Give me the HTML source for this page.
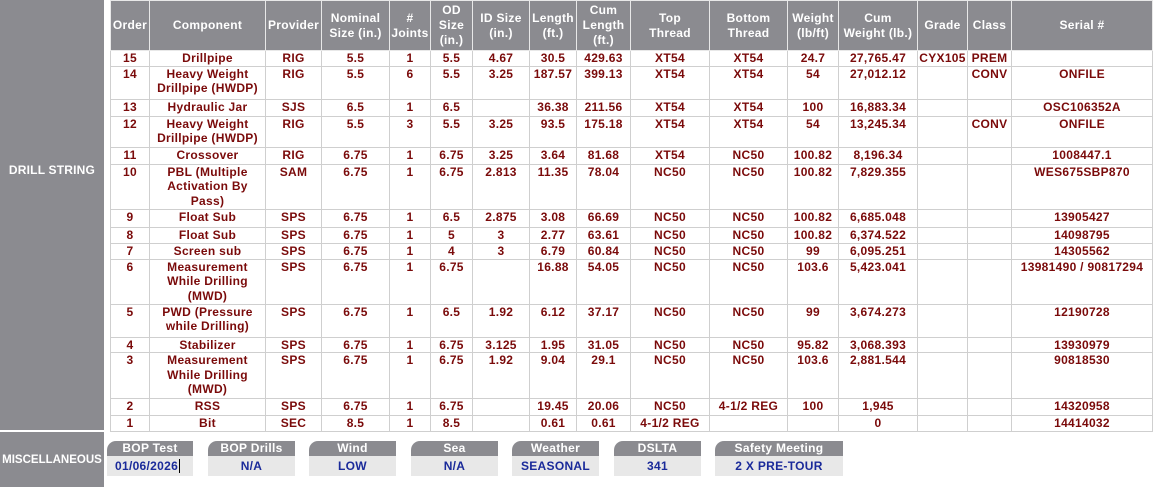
<!DOCTYPE html>
<html><head><style>
body{margin:0;width:1157px;height:487px;background:#fff;font-family:"Liberation Sans",sans-serif;position:relative;overflow:hidden}
.side{position:absolute;left:0;width:104px;background:#8b8b90;color:#fff;font-weight:bold;font-size:12px;letter-spacing:0.2px;text-align:center}
table{position:absolute;left:110px;top:0;border-collapse:collapse;table-layout:fixed;width:1042px}
td,th{border:1px solid #cfcfcf;padding:0 1px;text-align:center;vertical-align:top;font-size:12px;line-height:14.5px;font-weight:bold;overflow:hidden;white-space:nowrap;letter-spacing:0.3px}
th{background:#8b8b90;color:#fff;vertical-align:middle;border-color:#e8e8e8;height:49px;line-height:15px}
td{color:#7a0a0a}
.b{position:absolute;top:441px;height:35px}
.b .h{height:15px;background:#8b8b90;color:#fff;font-weight:bold;font-size:12px;text-align:center;line-height:15px;border-top-left-radius:9px;letter-spacing:0.3px}
.b .v{height:20px;background:#e8e8e8;color:#1a2a9a;font-weight:bold;font-size:12px;text-align:center;line-height:20px;letter-spacing:0.3px}
</style></head><body>
<div class="side" style="top:0;height:430px"><div style="padding-top:163px">DRILL STRING</div></div>
<div class="side" style="top:432px;height:55px"><div style="padding-top:22px;font-size:11.5px;letter-spacing:0">MISCELLANEOUS</div></div>
<table>
<colgroup><col style="width:39px"><col style="width:116px"><col style="width:56px"><col style="width:68px"><col style="width:41px"><col style="width:42px"><col style="width:57px"><col style="width:47px"><col style="width:54px"><col style="width:79px"><col style="width:78px"><col style="width:51px"><col style="width:79px"><col style="width:50px"><col style="width:44px"><col style="width:141px"></colgroup>
<tr><th>Order</th><th>Component</th><th>Provider</th><th>Nominal<br>Size (in.)</th><th>#<br>Joints</th><th>OD<br>Size<br>(in.)</th><th>ID Size<br>(in.)</th><th>Length<br>(ft.)</th><th>Cum<br>Length<br>(ft.)</th><th>Top<br>Thread</th><th>Bottom<br>Thread</th><th>Weight<br>(lb/ft)</th><th>Cum<br>Weight (lb.)</th><th>Grade</th><th>Class</th><th>Serial #</th></tr>
<tr style="height:15px"><td>15</td><td>Drillpipe</td><td>RIG</td><td>5.5</td><td>1</td><td>5.5</td><td>4.67</td><td>30.5</td><td>429.63</td><td>XT54</td><td>XT54</td><td>24.7</td><td>27,765.47</td><td>CYX105</td><td>PREM</td><td></td></tr>
<tr style="height:33px"><td>14</td><td>Heavy Weight<br>Drillpipe (HWDP)</td><td>RIG</td><td>5.5</td><td>6</td><td>5.5</td><td>3.25</td><td>187.57</td><td>399.13</td><td>XT54</td><td>XT54</td><td>54</td><td>27,012.12</td><td></td><td>CONV</td><td>ONFILE</td></tr>
<tr style="height:17px"><td>13</td><td>Hydraulic Jar</td><td>SJS</td><td>6.5</td><td>1</td><td>6.5</td><td></td><td>36.38</td><td>211.56</td><td>XT54</td><td>XT54</td><td>100</td><td>16,883.34</td><td></td><td></td><td>OSC106352A</td></tr>
<tr style="height:31px"><td>12</td><td>Heavy Weight<br>Drillpipe (HWDP)</td><td>RIG</td><td>5.5</td><td>3</td><td>5.5</td><td>3.25</td><td>93.5</td><td>175.18</td><td>XT54</td><td>XT54</td><td>54</td><td>13,245.34</td><td></td><td>CONV</td><td>ONFILE</td></tr>
<tr style="height:17px"><td>11</td><td>Crossover</td><td>RIG</td><td>6.75</td><td>1</td><td>6.75</td><td>3.25</td><td>3.64</td><td>81.68</td><td>XT54</td><td>NC50</td><td>100.82</td><td>8,196.34</td><td></td><td></td><td>1008447.1</td></tr>
<tr style="height:45px"><td>10</td><td>PBL (Multiple<br>Activation By<br>Pass)</td><td>SAM</td><td>6.75</td><td>1</td><td>6.75</td><td>2.813</td><td>11.35</td><td>78.04</td><td>NC50</td><td>NC50</td><td>100.82</td><td>7,829.355</td><td></td><td></td><td>WES675SBP870</td></tr>
<tr style="height:18px"><td>9</td><td>Float Sub</td><td>SPS</td><td>6.75</td><td>1</td><td>6.5</td><td>2.875</td><td>3.08</td><td>66.69</td><td>NC50</td><td>NC50</td><td>100.82</td><td>6,685.048</td><td></td><td></td><td>13905427</td></tr>
<tr style="height:16px"><td>8</td><td>Float Sub</td><td>SPS</td><td>6.75</td><td>1</td><td>5</td><td>3</td><td>2.77</td><td>63.61</td><td>NC50</td><td>NC50</td><td>100.82</td><td>6,374.522</td><td></td><td></td><td>14098795</td></tr>
<tr style="height:16px"><td>7</td><td>Screen sub</td><td>SPS</td><td>6.75</td><td>1</td><td>4</td><td>3</td><td>6.79</td><td>60.84</td><td>NC50</td><td>NC50</td><td>99</td><td>6,095.251</td><td></td><td></td><td>14305562</td></tr>
<tr style="height:45px"><td>6</td><td>Measurement<br>While Drilling<br>(MWD)</td><td>SPS</td><td>6.75</td><td>1</td><td>6.75</td><td></td><td>16.88</td><td>54.05</td><td>NC50</td><td>NC50</td><td>103.6</td><td>5,423.041</td><td></td><td></td><td>13981490 / 90817294</td></tr>
<tr style="height:33px"><td>5</td><td>PWD (Pressure<br>while Drilling)</td><td>SPS</td><td>6.75</td><td>1</td><td>6.5</td><td>1.92</td><td>6.12</td><td>37.17</td><td>NC50</td><td>NC50</td><td>99</td><td>3,674.273</td><td></td><td></td><td>12190728</td></tr>
<tr style="height:15px"><td>4</td><td>Stabilizer</td><td>SPS</td><td>6.75</td><td>1</td><td>6.75</td><td>3.125</td><td>1.95</td><td>31.05</td><td>NC50</td><td>NC50</td><td>95.82</td><td>3,068.393</td><td></td><td></td><td>13930979</td></tr>
<tr style="height:46px"><td>3</td><td>Measurement<br>While Drilling<br>(MWD)</td><td>SPS</td><td>6.75</td><td>1</td><td>6.75</td><td>1.92</td><td>9.04</td><td>29.1</td><td>NC50</td><td>NC50</td><td>103.6</td><td>2,881.544</td><td></td><td></td><td>90818530</td></tr>
<tr style="height:17px"><td>2</td><td>RSS</td><td>SPS</td><td>6.75</td><td>1</td><td>6.75</td><td></td><td>19.45</td><td>20.06</td><td>NC50</td><td>4-1/2 REG</td><td>100</td><td>1,945</td><td></td><td></td><td>14320958</td></tr>
<tr style="height:16px"><td>1</td><td>Bit</td><td>SEC</td><td>8.5</td><td>1</td><td>8.5</td><td></td><td>0.61</td><td>0.61</td><td>4-1/2 REG</td><td></td><td></td><td>0</td><td></td><td></td><td>14414032</td></tr>
</table>
<div class="b" style="left:107px;width:86px"><div class="h">BOP Test</div><div class="v" style="text-align:left;padding-left:8px">01/06/2026<span style="border-left:1px solid #000;margin-left:1px"></span></div></div>
<div class="b" style="left:208px;width:87px"><div class="h">BOP Drills</div><div class="v">N/A</div></div>
<div class="b" style="left:309px;width:87px"><div class="h">Wind</div><div class="v">LOW</div></div>
<div class="b" style="left:411px;width:87px"><div class="h">Sea</div><div class="v">N/A</div></div>
<div class="b" style="left:512px;width:87px"><div class="h">Weather</div><div class="v">SEASONAL</div></div>
<div class="b" style="left:614px;width:87px"><div class="h">DSLTA</div><div class="v">341</div></div>
<div class="b" style="left:715px;width:128px"><div class="h">Safety Meeting</div><div class="v">2 X PRE-TOUR</div></div>
</body></html>
